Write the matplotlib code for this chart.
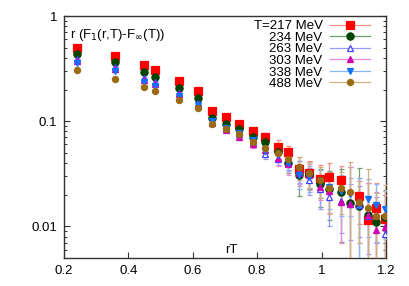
import numpy as np
import matplotlib
matplotlib.use('Agg')
import matplotlib.pyplot as plt
from matplotlib.lines import Line2D

# rT values of the data columns
rT = [0.240, 0.358, 0.448, 0.483, 0.556, 0.615, 0.660, 0.704, 0.745, 0.787,
      0.825, 0.864, 0.896, 0.929, 0.962, 0.995, 1.024, 1.060, 1.089, 1.116,
      1.143, 1.170, 1.197]

labels = ['T=217 MeV', '234 MeV', '263 MeV', '303 MeV', '338 MeV', '488 MeV']

# r (F_1(r,T) - F_inf(T)) for each temperature
f217 = [0.493, 0.420, 0.340, 0.305, 0.240, 0.193, 0.126, 0.109, 0.094, 0.080,
        0.071, 0.0574, 0.0504, 0.035, 0.032, 0.0284, 0.0292, 0.0275, np.nan, 0.0195,
        0.0116, 0.0149, 0.0117]
f234 = [0.436, 0.363, 0.294, 0.262, 0.206, 0.165, 0.107, 0.094, 0.084, 0.0705,
        0.063, 0.0504, 0.040, 0.0306, 0.0316, 0.0253, 0.0226, 0.0211, 0.0167, 0.0157,
        0.0129, 0.0109, 0.0122]
f263 = [0.390, 0.330, 0.258, 0.236, 0.187, 0.148, 0.100, 0.086, 0.076, 0.064,
        0.049, 0.044, 0.0404, 0.0338, 0.0277, 0.0226, 0.0190, 0.0176, 0.0164, 0.0160,
        0.0125, 0.0129, 0.0084]
f303 = [0.374, 0.314, 0.247, 0.228, 0.180, 0.145, 0.096, 0.083, 0.071, 0.0606,
        0.053, 0.0446, 0.039, 0.032, 0.031, 0.0237, 0.0215, 0.0170, 0.0163, 0.0170,
        0.0128, 0.0093, 0.0099]
f338 = [0.355, 0.300, 0.238, 0.218, 0.174, 0.142, 0.100, 0.087, 0.078, 0.0655,
        0.0515, 0.0475, 0.0404, 0.0305, 0.0294, 0.0267, 0.0235, 0.0215, 0.0205, 0.0160,
        0.018, 0.0161, 0.0146]
f488 = [0.305, 0.254, 0.210, 0.195, 0.160, 0.134, 0.094, 0.085, 0.075, 0.064,
        0.0555, 0.0496, 0.044, 0.0365, 0.032, 0.0277, 0.023, 0.023, 0.0211, 0.017,
        0.015, 0.0126, 0.0126]

# error bars
e217 = [0.004, 0.004, 0.004, 0.004, 0.004, 0.004, 0.003, 0.003, 0.004, 0.006,
        0.007, 0.009, 0.008, 0.011, 0.010, 0.010, 0.011, 0.010, np.nan, 0.009,
        0.007, 0.011, 0.008]
e234 = [0.004, 0.004, 0.004, 0.004, 0.004, 0.004, 0.003, 0.003, 0.004, 0.005,
        0.006, 0.007, 0.008, 0.011, 0.009, 0.010, 0.011, 0.014, 0.020, 0.020,
        0.013, 0.006, 0.010]
e263 = [0.004, 0.004, 0.004, 0.004, 0.004, 0.004, 0.003, 0.003, 0.004, 0.005,
        0.005, 0.006, 0.007, 0.008, 0.008, 0.008, 0.009, 0.009, 0.009, 0.008,
        0.007, 0.006, 0.005]
e303 = [0.004, 0.004, 0.004, 0.004, 0.004, 0.004, 0.003, 0.004, 0.005, 0.005,
        0.006, 0.007, 0.008, 0.007, 0.008, 0.006, 0.008, 0.010, 0.020, 0.010,
        0.013, 0.012, 0.012]
e338 = [0.004, 0.004, 0.004, 0.004, 0.004, 0.004, 0.003, 0.003, 0.004, 0.005,
        0.005, 0.006, 0.006, 0.008, 0.008, 0.008, 0.009, 0.009, 0.008, 0.013,
        0.010, 0.009, 0.007]
e488 = [0.004, 0.004, 0.004, 0.004, 0.004, 0.004, 0.003, 0.003, 0.004, 0.005,
        0.005, 0.006, 0.007, 0.009, 0.009, 0.009, 0.010, 0.010, 0.020, 0.010,
        0.020, 0.008, 0.012]

values = [f217, f234, f263, f303, f338, f488]
errors = [e217, e234, e263, e303, e338, e488]

colors = ['#ff0000', '#004400', '#4040ff', '#d000b0', '#1070ff', '#9a6a14']
ecolors = ['#ff8c8c', '#6e9e6e', '#9a9aff', '#e88ad8', '#8cb4ff', '#d0b080']
markers = ['s', 'o', '^', '^', 'v', 'o']
fills = [True, True, False, True, True, True]
sizes = [5.4, 5.2, 4.6, 4.2, 4.4, 4.4]

plt.rcParams['font.family'] = ['Liberation Sans', 'DejaVu Sans']

fig = plt.figure(figsize=(4.09, 2.86), dpi=100)
ax = fig.add_axes([0.1565, 0.098, 0.787, 0.846])

handles = []
for vals, errs, c, ec, m, fl, ms, lab in zip(values, errors, colors, ecolors,
                                               markers, fills, sizes, labels):
    v = np.array(vals)
    e = np.array(errs)
    lower = np.minimum(e, v - 1e-6)
    ax.errorbar(rT, v, yerr=[lower, e], fmt=m, color=c, ecolor=ec,
                mfc=c if fl else 'white', mec=c, ms=ms, mew=0.9,
                elinewidth=0.9, capsize=1.8, capthick=0.8, zorder=3)
    handles.append(Line2D([0], [0], color=ec, lw=0.9, marker=m, ms=ms,
                          mfc=c if fl else 'white', mec=c, mew=0.9))

ax.set_yscale('log')
ax.set_xlim(0.2, 1.2)
ax.set_ylim(0.005, 1)
ax.set_xticks([0.2, 0.4, 0.6, 0.8, 1.0, 1.2])
ax.set_xticklabels(['0.2', '0.4', '0.6', '0.8', '1', '1.2'])
ax.set_yticks([0.01, 0.1, 1])
ax.set_yticklabels(['0.01', '0.1', '1'])
ax.tick_params(which='both', direction='in', right=True, top=False,
               labelsize=9.5, color='#333333', pad=5)
ax.tick_params(which='major', length=4.5, width=0.8)
ax.tick_params(which='minor', length=2.5, width=0.7)
ax.tick_params(axis='x', which='minor', bottom=False)
for s in ax.spines.values():
    s.set_color('#333333')
    s.set_linewidth(1.0)

ax.text(0.018, 0.955, r'r (F$_1$(r,T)-F$_\infty$(T))', transform=ax.transAxes,
        fontsize=9.5, ha='left', va='top')
ax.text(0.52, 0.008, 'rT', transform=ax.transAxes, fontsize=9.5,
        ha='center', va='bottom')

leg = ax.legend(handles, labels, loc='upper right', bbox_to_anchor=(0.963, 1.0),
                frameon=False, markerfirst=False, fontsize=9.5, handlelength=3.0,
                handletextpad=0.6, labelspacing=-0.05, borderpad=0.3,
                borderaxespad=0, numpoints=1)
# right-align the labels as gnuplot does
leg._legend_box._children[-1]._children[0].align = 'right'

fig.savefig('out.png', dpi=100)
